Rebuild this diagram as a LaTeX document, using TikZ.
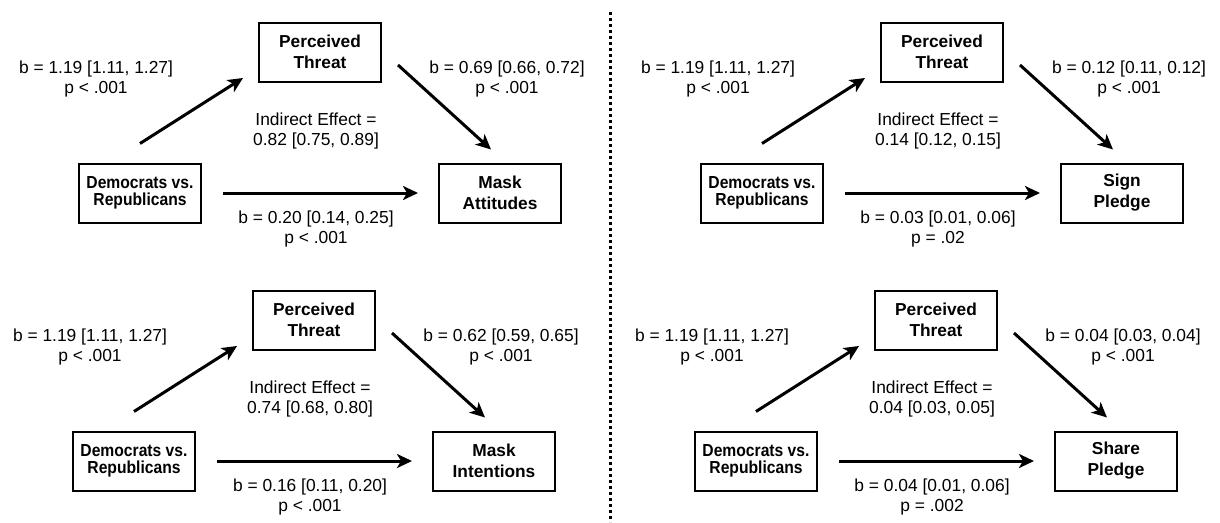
\documentclass[tikz,border=0pt]{standalone}
\usepackage{fontspec}
\setmainfont{Liberation Sans}
\newfontfamily\narrowsans[FakeStretch=0.9]{Liberation Sans}
\usetikzlibrary{arrows.meta, positioning, calc}

\begin{document}
\begin{tikzpicture}[
        x=1pt, y=-1pt,
        % Styles
        block/.style={rectangle, draw, line width=2pt, minimum width=122pt, minimum height=59pt, align=center, font=\bfseries\fontsize{17.3}{21}\selectfont},
        group/.style={block, font=\narrowsans\bfseries\fontsize{17.4}{17.5}\selectfont},
        coef/.style={align=center, font=\fontsize{17.4}{20}\selectfont},
        line/.style={draw, line width=3pt, -{Stealth[length=15pt, width=14pt, inset=4pt]}}
    ]
        \useasboundingbox (0,0) rectangle (1220,522);

        % Divider
        \draw [line width=3pt, dash pattern=on 3pt off 3pt] (610,12) -- (610,522);

        % Mask attitudes
        \node [group] (attdem) at (140,193) {Democrats vs.\\Republicans};
        \node [block, right=236pt of attdem] (attout) {Mask\\Attitudes};
        \node [block] (attmed) at ($(attdem)!0.5!(attout)+(0,-141)$) {Perceived\\Threat};
        \node [coef] (attA) at (96,79) {b = 1.19 [1.11, 1.27]\\p < .001};
        \node [coef] (attB) at (507,79) {b = 0.69 [0.66, 0.72]\\p < .001};
        \node [coef] (attI) at (316,131) {Indirect Effect =\\0.82 [0.75, 0.89]};
        \node [coef] (attC) at (316,229) {b = 0.20 [0.14, 0.25]\\p < .001};
        \path [line] ($(attdem.north)+(0,-19)$) -- ($(attmed.west)+(-15,26)$);
        \path [line] ($(attmed.east)+(16,13)$) -- ($(attout.north)+(-9,-13)$);
        \path [line, shorten <=21pt, shorten >=20pt] (attdem) -- (attout);

        % Sign pledge
        \begin{scope}[shift={(622,0)}]
        \node [group] (sigdem) at (140,193) {Democrats vs.\\Republicans};
        \node [block, right=236pt of sigdem] (sigout) {Sign\\Pledge};
        \node [block] (sigmed) at ($(sigdem)!0.5!(sigout)+(0,-141)$) {Perceived\\Threat};
        \node [coef] (sigA) at (96,79) {b = 1.19 [1.11, 1.27]\\p < .001};
        \node [coef] (sigB) at (507,79) {b = 0.12 [0.11, 0.12]\\p < .001};
        \node [coef] (sigI) at (316,131) {Indirect Effect =\\0.14 [0.12, 0.15]};
        \node [coef] (sigC) at (316,229) {b = 0.03 [0.01, 0.06]\\p = .02};
        \path [line] ($(sigdem.north)+(0,-19)$) -- ($(sigmed.west)+(-15,26)$);
        \path [line] ($(sigmed.east)+(16,13)$) -- ($(sigout.north)+(-9,-13)$);
        \path [line, shorten <=21pt, shorten >=20pt] (sigdem) -- (sigout);
        \end{scope}

        % Mask intentions
        \begin{scope}[shift={(-6,268)}]
        \node [group] (intdem) at (140,193) {Democrats vs.\\Republicans};
        \node [block, right=236pt of intdem] (intout) {Mask\\Intentions};
        \node [block] (intmed) at ($(intdem)!0.5!(intout)+(0,-141)$) {Perceived\\Threat};
        \node [coef] (intA) at (96,79) {b = 1.19 [1.11, 1.27]\\p < .001};
        \node [coef] (intB) at (507,79) {b = 0.62 [0.59, 0.65]\\p < .001};
        \node [coef] (intI) at (316,131) {Indirect Effect =\\0.74 [0.68, 0.80]};
        \node [coef] (intC) at (316,229) {b = 0.16 [0.11, 0.20]\\p < .001};
        \path [line] ($(intdem.north)+(0,-19)$) -- ($(intmed.west)+(-15,26)$);
        \path [line] ($(intmed.east)+(16,13)$) -- ($(intout.north)+(-9,-13)$);
        \path [line, shorten <=21pt, shorten >=20pt] (intdem) -- (intout);
        \end{scope}

        % Share pledge
        \begin{scope}[shift={(616,268)}]
        \node [group] (shadem) at (140,193) {Democrats vs.\\Republicans};
        \node [block, right=236pt of shadem] (shaout) {Share\\Pledge};
        \node [block] (shamed) at ($(shadem)!0.5!(shaout)+(0,-141)$) {Perceived\\Threat};
        \node [coef] (shaA) at (96,79) {b = 1.19 [1.11, 1.27]\\p < .001};
        \node [coef] (shaB) at (507,79) {b = 0.04 [0.03, 0.04]\\p < .001};
        \node [coef] (shaI) at (316,131) {Indirect Effect =\\0.04 [0.03, 0.05]};
        \node [coef] (shaC) at (316,229) {b = 0.04 [0.01, 0.06]\\p = .002};
        \path [line] ($(shadem.north)+(0,-19)$) -- ($(shamed.west)+(-15,26)$);
        \path [line] ($(shamed.east)+(16,13)$) -- ($(shaout.north)+(-9,-13)$);
        \path [line, shorten <=21pt, shorten >=20pt] (shadem) -- (shaout);
        \end{scope}
\end{tikzpicture}
\end{document}
